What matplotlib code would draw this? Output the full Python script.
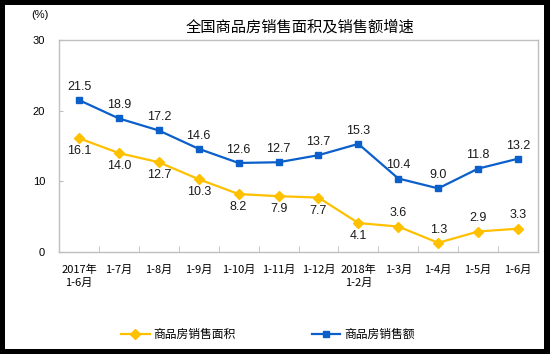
import matplotlib.pyplot as plt
from matplotlib.patches import Rectangle

plt.rcParams['font.family'] = ['Liberation Sans', 'Noto Sans CJK SC']

categories = ["2017年\n1-6月", "1-7月", "1-8月", "1-9月", "1-10月", "1-11月",
              "1-12月", "2018年\n1-2月", "1-3月", "1-4月", "1-5月", "1-6月"]
area_growth = [16.1, 14.0, 12.7, 10.3, 8.2, 7.9, 7.7, 4.1, 3.6, 1.3, 2.9, 3.3]
sales_growth = [21.5, 18.9, 17.2, 14.6, 12.6, 12.7, 13.7, 15.3, 10.4, 9.0, 11.8, 13.2]
# yellow labels go above the point from here on
area_above_from = 8

BLUE = "#0B5FCB"
YELLOW = "#FFC000"
GRAY = "#BFBFBF"


def main():
    fig = plt.figure(figsize=(5.5, 3.54), dpi=100, facecolor="black")
    # white card inside the black frame
    fig.patches.append(Rectangle((5 / 550, 5 / 354), 539 / 550, 344 / 354,
                                 transform=fig.transFigure, facecolor="white",
                                 edgecolor="none", zorder=-10))

    ax = fig.add_axes([59 / 550, 102 / 354, 479 / 550, 212 / 354])
    ax.set_facecolor("white")
    x = list(range(len(categories)))

    l_area, = ax.plot(x, area_growth, color=YELLOW, lw=1.6, marker="D", ms=5,
                      label="商品房销售面积")
    l_sales, = ax.plot(x, sales_growth, color=BLUE, lw=1.6, marker="s", ms=5,
                       label="商品房销售额")

    for i, v in enumerate(sales_growth):
        ax.annotate(f"{v:.1f}", (i, v), xytext=(0, 9.5), textcoords="offset points",
                    ha="center", va="center", fontsize=9, color="#1a1a1a")
    for i, v in enumerate(area_growth):
        dy = 9.5 if i >= area_above_from else -9.5
        ax.annotate(f"{v:.1f}", (i, v), xytext=(0, dy), textcoords="offset points",
                    ha="center", va="center", fontsize=9, color="#1a1a1a")

    ax.set_xlim(-0.5, len(categories) - 0.5)
    ax.set_ylim(0, 30)
    ax.set_yticks([0, 10, 20, 30])
    ax.tick_params(axis="y", direction="in", length=3, color=GRAY, pad=10,
                   labelsize=8)
    ax.set_xticks(x)
    ax.set_xticklabels(categories, fontsize=8, linespacing=1.4,
                       family=['Noto Sans CJK SC', 'DejaVu Sans'])
    ax.tick_params(axis="x", length=0, pad=9)
    # small upward ticks at the category boundaries
    ax.set_xticks([i + 0.5 for i in x[:-1]], minor=True)
    ax.tick_params(axis="x", which="minor", direction="in", length=4, color=GRAY)

    for s in ax.spines.values():
        s.set_color(GRAY)
        s.set_linewidth(1)

    fig.text(0.545, 0.923, "全国商品房销售面积及销售额增速", ha="center", va="center",
             fontsize=11, family=['Noto Sans CJK SC', 'DejaVu Sans'])
    fig.text(40 / 550, 1 - 15 / 354, "(%)", ha="center", va="center", fontsize=8)

    fig.legend(handles=[l_area, l_sales], loc="center",
               bbox_to_anchor=(0.487, 0.056), ncol=2, frameon=False,
               handlelength=2.4, handletextpad=0.3, columnspacing=6.5,
               prop={'family': ['Noto Sans CJK SC', 'DejaVu Sans'], 'size': 8.5})

    fig.savefig("out.png", dpi=100, facecolor=fig.get_facecolor())


if __name__ == "__main__":
    main()
